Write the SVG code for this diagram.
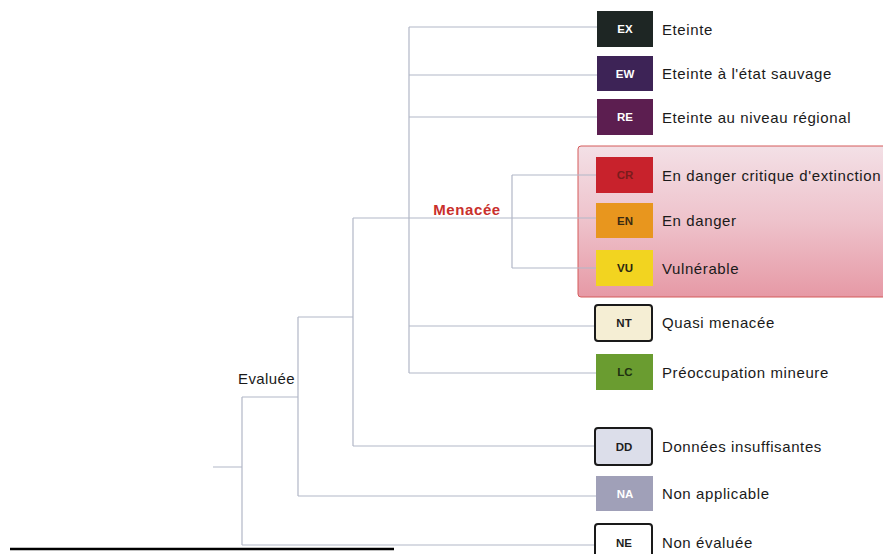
<svg xmlns="http://www.w3.org/2000/svg" width="883" height="554" viewBox="0 0 883 554">
<style>
.ln{stroke:#b2b7c7;stroke-width:1.2;fill:none}
.lbl{font-family:"Liberation Sans",Arial,sans-serif;font-size:15px;letter-spacing:0.6px;fill:#1a1a1a}
.code{font-family:"Liberation Sans",Arial,sans-serif;font-size:11.5px;font-weight:bold;text-anchor:middle}
.bd{stroke:#1a1a1a;stroke-width:2}
</style>
<defs>
<linearGradient id="pink" x1="0" y1="0" x2="0" y2="1">
<stop offset="0" stop-color="#f3e0e6"/>
<stop offset="0.5" stop-color="#eec2cb"/>
<stop offset="1" stop-color="#e699a5"/>
</linearGradient>
</defs>
<rect width="883" height="554" fill="#ffffff"/>
<g id="threatened-frame">
<rect x="578" y="146" width="310" height="151" rx="3" fill="url(#pink)" stroke="#d45a5a" stroke-width="1"/>
</g>
<g id="connectors">
<path class="ln" d="M409 27V373M409 27H597M409 75H597M409 117H597M409 326H594M409 373H597"/>
<path class="ln" d="M353 218H596M512 175V268M512 175H596M512 268H596"/>
<path class="ln" d="M353 218V446M353 446H594M298 317H353M298 317V496M298 496H596"/>
<path class="ln" d="M242 397H298M242 397V545M242 545H594M213 467H242"/>
</g>
<g id="menacee"><text x="467" y="215" text-anchor="middle" font-family="Liberation Sans, Arial, sans-serif" font-size="15" font-weight="bold" letter-spacing="0.6" fill="#c9302c">Menacée</text></g>
<g id="evaluee"><text x="238" y="384" class="lbl" style="letter-spacing:0.4px">Evaluée</text></g>
<g id="EX"><rect x="597" y="11" width="56" height="36" fill="#1e2624"/><text class="code" x="625" y="33" fill="#ffffff">EX</text><text class="lbl" x="662" y="35">Eteinte</text></g>
<g id="EW"><rect x="597" y="56" width="56" height="35" fill="#3d2356"/><text class="code" x="625" y="77.5" fill="#ffffff">EW</text><text class="lbl" x="662" y="79">Eteinte à l'état sauvage</text></g>
<g id="RE"><rect x="597" y="99" width="56" height="36" fill="#5c1e50"/><text class="code" x="625" y="121" fill="#ffffff">RE</text><text class="lbl" x="662" y="122.5">Eteinte au niveau régional</text></g>
<g id="CR"><rect x="596" y="157" width="57" height="36" fill="#c8222c"/><text class="code" x="625" y="179" fill="#7a1c1c">CR</text><text class="lbl" x="662" y="180.5">En danger critique d'extinction</text></g>
<g id="EN"><rect x="596" y="203" width="57" height="35" fill="#e8961e"/><text class="code" x="625" y="224.5" fill="#3a2a12">EN</text><text class="lbl" x="662" y="226">En danger</text></g>
<g id="VU"><rect x="596" y="250" width="57" height="36" fill="#f2d420"/><text class="code" x="625" y="272" fill="#2a2612">VU</text><text class="lbl" x="662" y="273.5">Vulnérable</text></g>
<g id="NT"><rect x="595" y="305" width="57" height="36" rx="3" fill="#f5eed4" class="bd"/><text class="code" x="624" y="327" fill="#1e1e1e">NT</text><text class="lbl" x="662" y="328">Quasi menacée</text></g>
<g id="LC"><rect x="596" y="354" width="57" height="36" fill="#6a9c30"/><text class="code" x="625" y="376" fill="#1e3010">LC</text><text class="lbl" x="662" y="377.5">Préoccupation mineure</text></g>
<g id="DD"><rect x="595" y="428" width="57" height="37" rx="3" fill="#dcdeea" class="bd"/><text class="code" x="624" y="450.5" fill="#1e1e1e">DD</text><text class="lbl" x="662" y="451.5">Données insuffisantes</text></g>
<g id="NA"><rect x="596" y="476" width="57" height="35" fill="#a0a0b8"/><text class="code" x="625" y="497.5" fill="#ffffff">NA</text><text class="lbl" x="662" y="499">Non applicable</text></g>
<g id="NE"><rect x="595" y="524" width="57" height="40" rx="3" fill="#ffffff" class="bd"/><text class="code" x="624" y="547" fill="#1e1e1e">NE</text><text class="lbl" x="662" y="548">Non évaluée</text></g>
<g id="rule"><line x1="10" y1="549" x2="394" y2="549" stroke="#000000" stroke-width="2.5"/></g>
</svg>
